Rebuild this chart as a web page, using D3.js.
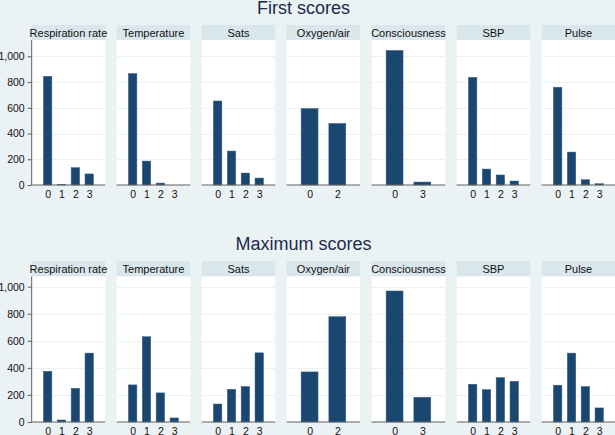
<!DOCTYPE html>
<html>
<head>
<meta charset="utf-8">
<script src="https://cdn.jsdelivr.net/npm/d3@7"></script>
<style>
  html, body { margin: 0; padding: 0; background: #eaf2f3; }
  svg { display: block; }
  text { font-family: "Liberation Sans", Arial, sans-serif; }
</style>
</head>
<body>
<div id="chart"></div>
<script>
// ---------------- data ----------------
const variables = ["Respiration rate", "Temperature", "Sats", "Oxygen/air", "Consciousness", "SBP", "Pulse"];
const scoreLevels = [[0,1,2,3],[0,1,2,3],[0,1,2,3],[0,2],[0,3],[0,1,2,3],[0,1,2,3]];
const firstCounts = [
  [845, 4, 135, 86],
  [866, 186, 15, 0],
  [653, 264, 93, 54],
  [594, 478],
  [1046, 23],
  [837, 124, 78, 31],
  [760, 256, 41, 10]
];
const maxCounts = [
  [375, 15, 249, 509],
  [274, 630, 215, 30],
  [133, 242, 262, 511],
  [370, 778],
  [968, 183],
  [279, 239, 328, 301],
  [272, 509, 262, 104]
];
const rowTitles = ["First scores", "Maximum scores"];
const yTicks = [0, 200, 400, 600, 800, 1000];

// ---------------- layout ----------------
const W = 615, H = 435;
const panelLeft0 = 31.7, panelStep = 85, panelW = 73.5, innerMargin = 9;
const rows = [
  { title: rowTitles[0], titleY: 14, headerTop: 25, plotTop: 40, plotBottom: 185, yMax: 1127, counts: firstCounts },
  { title: rowTitles[1], titleY: 249.5, headerTop: 261, plotTop: 276.5, plotBottom: 422, yMax: 1075, counts: maxCounts }
];
const C = {
  bg: "#eaf2f3", header: "#d9e6eb", plot: "#ffffff", grid: "#eaf2f3",
  bar: "#1a476f", barEdge: "#3d6287", axis: "#5f5f5f", text: "#111111", title: "#1c2b4a"
};

const svg = d3.select("#chart").append("svg").attr("width", W).attr("height", H);
svg.append("rect").attr("width", W).attr("height", H).attr("fill", C.bg);

rows.forEach(row => {
  svg.append("text")
    .attr("x", 303.5).attr("y", row.titleY)
    .attr("text-anchor", "middle")
    .attr("font-size", 18)
    .attr("fill", C.title)
    .text(row.title);

  const y = d3.scaleLinear().domain([0, row.yMax]).range([row.plotBottom, row.plotTop]);

  variables.forEach((name, i) => {
    const left = panelLeft0 + i * panelStep;
    const right = left + panelW;
    const levels = scoreLevels[i];
    const bin = d3.min(d3.pairs(levels), p => p[1] - p[0]);
    const x = d3.scaleLinear()
      .domain([d3.min(levels) - bin / 2, d3.max(levels) + bin / 2])
      .range([left + innerMargin, right - innerMargin]);
    const barW = (x(bin) - x(0)) * 0.61;

    const g = svg.append("g");
    // header
    g.append("rect").attr("x", left).attr("y", row.headerTop)
      .attr("width", panelW).attr("height", row.plotTop - row.headerTop)
      .attr("fill", C.header);
    g.append("text").attr("x", left + panelW / 2).attr("y", row.headerTop + 11.5)
      .attr("text-anchor", "middle").attr("font-size", 11).attr("fill", C.text)
      .text(name);
    // plot region
    g.append("rect").attr("x", left).attr("y", row.plotTop)
      .attr("width", panelW).attr("height", row.plotBottom - row.plotTop)
      .attr("fill", C.plot);
    // grid
    g.selectAll("line.grid").data(yTicks.filter(t => t > 0)).join("line")
      .attr("class", "grid")
      .attr("x1", left).attr("x2", right)
      .attr("y1", d => Math.round(y(d)) + 0.5).attr("y2", d => Math.round(y(d)) + 0.5)
      .attr("stroke", C.grid).attr("stroke-width", 1.2);
    // bars
    const vals = row.counts[i];
    g.selectAll("rect.bar").data(levels.map((l, k) => ({ l, v: vals[k] }))).join("rect")
      .attr("class", "bar")
      .attr("x", d => x(d.l) - barW / 2)
      .attr("width", barW)
      .attr("y", d => y(d.v))
      .attr("height", d => y(0) - y(d.v))
      .attr("fill", C.bar)
      .attr("stroke", C.barEdge).attr("stroke-width", 0.5);
    // x axis
    const xa = g.append("g").attr("transform", `translate(0,${row.plotBottom})`)
      .call(d3.axisBottom(x).tickValues(levels).tickSize(0).tickPadding(6).tickFormat(d3.format("d")));
    xa.select(".domain").remove();
    xa.selectAll("text").attr("font-size", 10.5).attr("fill", C.text)
      .attr("font-family", "Liberation Sans, Arial, sans-serif");
    g.append("line").attr("x1", left).attr("x2", right)
      .attr("y1", row.plotBottom).attr("y2", row.plotBottom)
      .attr("stroke", C.axis).attr("stroke-width", 1);

    if (i === 0) {
      const ya = g.append("g").attr("transform", `translate(${left},0)`)
        .call(d3.axisLeft(y).tickValues(yTicks).tickSize(4).tickPadding(3).tickFormat(d3.format(",")));
      ya.select(".domain").remove();
      ya.selectAll(".tick line").attr("stroke", C.axis);
      ya.selectAll("text").attr("font-size", 10.5).attr("fill", C.text)
        .attr("font-family", "Liberation Sans, Arial, sans-serif");
      g.append("line").attr("x1", left).attr("x2", left)
        .attr("y1", row.plotTop).attr("y2", row.plotBottom)
        .attr("stroke", C.axis).attr("stroke-width", 1);
    }
  });
});
</script>
</body>
</html>
